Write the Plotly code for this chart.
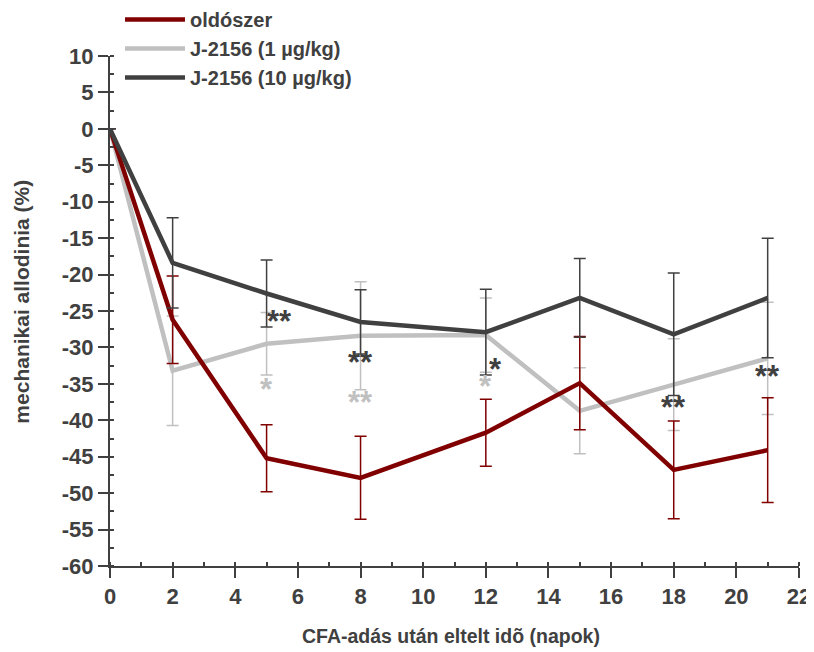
import plotly.graph_objects as go

days = [0, 2, 5, 8, 12, 15, 18, 21]

veh = [0, -26.2, -45.2, -47.9, -41.7, -34.9, -46.8, -44.1]
veh_err = [0, 6.0, 4.6, 5.7, 4.6, 6.4, 6.7, 7.2]

low = [0, -33.2, -29.5, -28.4, -28.3, -38.7, -35.1, -31.5]
low_err = [0, 7.5, 4.3, 7.4, 5.1, 5.9, 6.3, 7.7]

high = [0, -18.4, -22.6, -26.5, -27.9, -23.2, -28.2, -23.2]
high_err = [0, 6.2, 4.6, 4.4, 5.9, 5.4, 8.4, 8.2]

names = ["oldószer", "J-2156 (1 µg/kg)", "J-2156 (10 µg/kg)"]
colors = ["#800000", "#C0C0C0", "#404040"]

# significance markers
sig_x = [5.4, 5.0, 8.0, 8.0, 12.3, 12.0, 18.0, 21.0]
sig_y = [-26.5, -35.8, -32.0, -37.5, -33.0, -35.3, -38.3, -34.0]
sig_t = ["**", "*", "**", "**", "*", "*", "**", "**"]
sig_s = [2, 1, 2, 1, 2, 1, 2, 2]

x_ticks = list(range(0, 23, 2))
y_ticks = list(range(-60, 11, 5))
y_labels = [str(v) for v in y_ticks]

FONT = "Liberation Sans Narrow, Arial Narrow, Liberation Sans, Arial, sans-serif"
AX = "#404040"

fig = go.Figure()
series = [(low, low_err, 1), (veh, veh_err, 0), (high, high_err, 2)]
for vals, err, i in series:
    fig.add_trace(go.Scatter(
        x=days, y=vals, mode="lines", name=names[i], legendrank=i + 1,
        line=dict(color=colors[i], width=4.5),
        error_y=dict(type="data", array=err, visible=True, color=colors[i],
                     thickness=1.5, width=6),
    ))

for x, y, t, s in zip(sig_x, sig_y, sig_t, sig_s):
    fig.add_annotation(x=x, y=y, text=t, showarrow=False,
                       font=dict(size=31, color=colors[s], family=FONT, weight="bold"),
                       xanchor="center", yanchor="middle")

# axis titles
fig.add_annotation(xref="paper", yref="paper", x=0.495, y=-0.138,
                   text="CFA-adás után eltelt idõ (napok)", showarrow=False,
                   xanchor="center", yanchor="middle",
                   font=dict(size=19.5, color=AX, family=FONT, weight="bold"))
fig.add_annotation(xref="paper", yref="paper", x=-0.128, y=0.518,
                   text="mechanikai allodinia (%)", showarrow=False, textangle=-90,
                   xanchor="center", yanchor="middle",
                   font=dict(size=21, color=AX, family=FONT, weight="bold"))

fig.update_layout(
    width=806, height=644,
    margin=dict(l=102, r=15, t=48, b=86, autoexpand=False),
    paper_bgcolor="white", plot_bgcolor="white",
    font=dict(family=FONT, color=AX, size=20, weight="bold"),
    showlegend=True,
    legend=dict(x=0.0145, y=1.11, xanchor="left", yanchor="top",
                bgcolor="rgba(0,0,0,0)", font=dict(size=20, color=AX, weight="bold"),
                tracegroupgap=0, itemwidth=60),
)

fig.update_xaxes(
    range=[0, 22], tickvals=x_ticks,
    showgrid=False, zeroline=False, showline=True, linecolor=AX, linewidth=2,
    ticks="outside", ticklen=10, tickwidth=2, tickcolor=AX,
    minor=dict(dtick=1, tick0=0, ticks="inside", ticklen=4, tickwidth=1.5, tickcolor=AX),
    tickfont=dict(size=22, color=AX, weight="bold"),
)
fig.update_yaxes(
    range=[-60, 10], tickvals=y_ticks, ticktext=y_labels,
    showgrid=False, zeroline=False, showline=True, linecolor=AX, linewidth=2,
    ticks="outside", ticklen=10, tickwidth=2, tickcolor=AX,
    minor=dict(dtick=2.5, tick0=0, ticks="inside", ticklen=4, tickwidth=1.5, tickcolor=AX),
    tickfont=dict(size=22, color=AX, weight="bold"),
)

fig.write_html("out.html")
